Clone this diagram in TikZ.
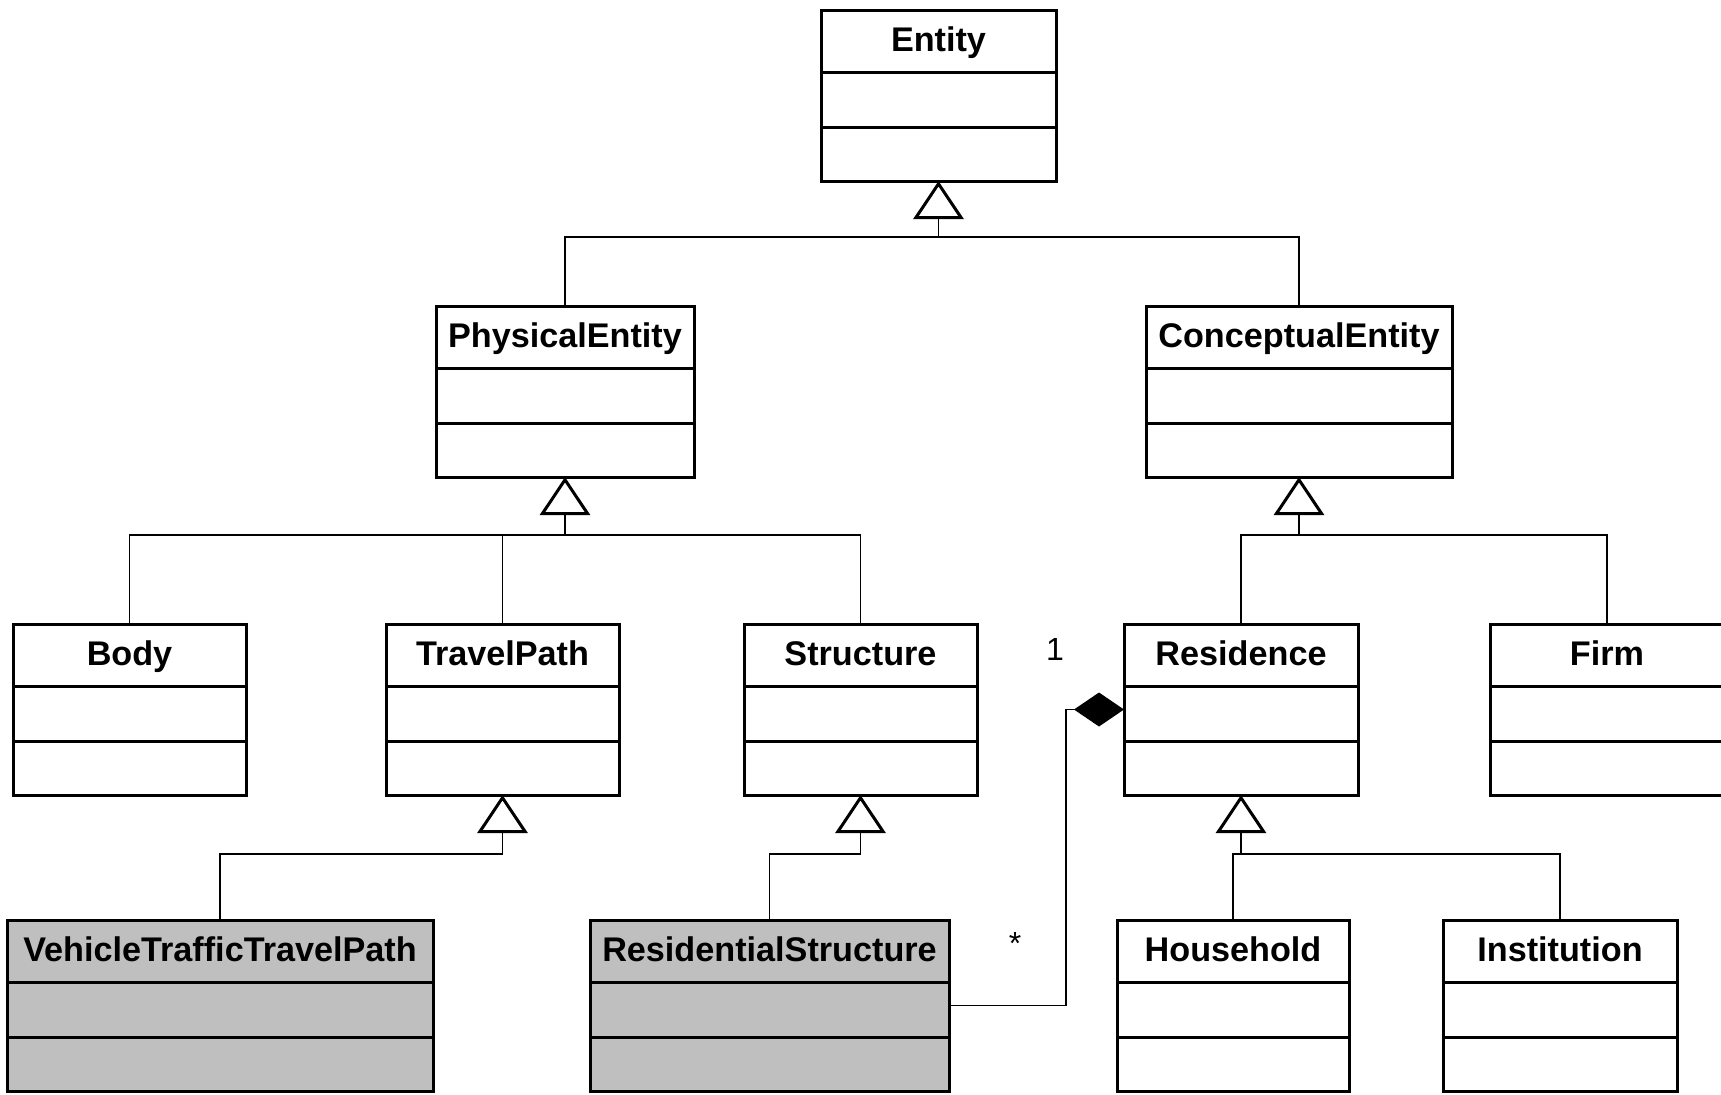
\documentclass[tikz,border=0pt]{standalone}
\usepackage{fontspec}
\setmainfont{Liberation Sans}
\usetikzlibrary{positioning}
\usetikzlibrary{arrows.meta}

\begin{document}
\begin{tikzpicture}
  [x=0.5pt,y=-0.5pt,
  cls/.style={rectangle,draw=black,fill=white,line width=1.5pt,inner sep=0pt,outer sep=0pt,anchor=north,minimum height=31pt,text height=12.2pt,text depth=2pt,font=\fontsize{17.1}{20}\selectfont\bfseries},
  attr/.style={rectangle,draw=black,fill=white,line width=1.5pt,inner sep=0pt,outer sep=0pt,minimum height=27.5pt},
  oper/.style={rectangle,draw=black,fill=white,line width=1.5pt,inner sep=0pt,outer sep=0pt,minimum height=27pt},
  gry/.style={fill=black!25},
  conn/.style={draw=black,line width=0.8pt},
  gen/.style={draw=black,line width=0.8pt,-{Triangle[length=19pt,width=25pt,fill=white,line width=1.5pt]}},
  comp/.style={draw=black,line width=0.8pt,-{Diamond[length=25pt,width=17pt]}},
  mult/.style={inner sep=0pt,font=\fontsize{16}{19}\selectfont}]
  \useasboundingbox (0,0) rectangle (1721,1094);

  % top
  \node[cls,minimum width=117.5pt] (entity) at (938.5,10) {Entity};
  \node[attr,minimum width=117.5pt,below=0pt of entity] (entity-a) {};
  \node[oper,minimum width=117.5pt,below=0pt of entity-a] (entity-o) {};

  % second row
  \node[cls,minimum width=129pt] (physent) at (565,306) {PhysicalEntity};
  \node[attr,minimum width=129pt,below=0pt of physent] (physent-a) {};
  \node[oper,minimum width=129pt,below=0pt of physent-a] (physent-o) {};

  \node[cls,minimum width=153pt] (concent) at (1299,306) {ConceptualEntity};
  \node[attr,minimum width=153pt,below=0pt of concent] (concent-a) {};
  \node[oper,minimum width=153pt,below=0pt of concent-a] (concent-o) {};

  % third row
  \node[cls,minimum width=116.5pt] (body) at (129.5,624) {Body};
  \node[attr,minimum width=116.5pt,below=0pt of body] (body-a) {};
  \node[oper,minimum width=116.5pt,below=0pt of body-a] (body-o) {};

  \node[cls,minimum width=116.5pt] (travel) at (502.5,624) {TravelPath};
  \node[attr,minimum width=116.5pt,below=0pt of travel] (travel-a) {};
  \node[oper,minimum width=116.5pt,below=0pt of travel-a] (travel-o) {};

  \node[cls,minimum width=116.5pt] (struct) at (860.5,624) {Structure};
  \node[attr,minimum width=116.5pt,below=0pt of struct] (struct-a) {};
  \node[oper,minimum width=116.5pt,below=0pt of struct-a] (struct-o) {};

  \node[cls,minimum width=117pt] (residence) at (1241,624) {Residence};
  \node[attr,minimum width=117pt,below=0pt of residence] (residence-a) {};
  \node[oper,minimum width=117pt,below=0pt of residence-a] (residence-o) {};

  \node[cls,minimum width=117pt] (firm) at (1607,624) {Firm};
  \node[attr,minimum width=117pt,below=0pt of firm] (firm-a) {};
  \node[oper,minimum width=117pt,below=0pt of firm-a] (firm-o) {};

  % bottom row
  \node[cls,gry,minimum width=213pt] (vttp) at (220,920) {VehicleTrafficTravelPath};
  \node[attr,gry,minimum width=213pt,below=0pt of vttp] (vttp-a) {};
  \node[oper,gry,minimum width=213pt,below=0pt of vttp-a] (vttp-o) {};

  \node[cls,gry,minimum width=179.5pt] (resstruct) at (769.5,920) {ResidentialStructure};
  \node[attr,gry,minimum width=179.5pt,below=0pt of resstruct] (resstruct-a) {};
  \node[oper,gry,minimum width=179.5pt,below=0pt of resstruct-a] (resstruct-o) {};

  \node[cls,minimum width=116pt] (household) at (1233,920) {Household};
  \node[attr,minimum width=116pt,below=0pt of household] (household-a) {};
  \node[oper,minimum width=116pt,below=0pt of household-a] (household-o) {};

  \node[cls,minimum width=117pt] (institution) at (1560,920) {Institution};
  \node[attr,minimum width=117pt,below=0pt of institution] (institution-a) {};
  \node[oper,minimum width=117pt,below=0pt of institution-a] (institution-o) {};

  % generalisations
  \path (entity-o.south) ++(0,56) coordinate (b1);
  \path (physent-o.south) ++(0,58) coordinate (b2);
  \path (concent-o.south) ++(0,58) coordinate (b3);
  \path (travel-o.south) ++(0,59) coordinate (b4);
  \path (struct-o.south) ++(0,59) coordinate (b5);
  \path (residence-o.south) ++(0,59) coordinate (b6);

  \draw[conn] (physent.north) |- (b1) -| (concent.north);
  \draw[gen] (b1) -- (entity-o.south);

  \draw[conn] (body.north) |- (b2) -| (struct.north);
  \draw[conn] (b2 -| travel.north) -- (travel.north);
  \draw[gen] (b2) -- (physent-o.south);

  \draw[conn] (residence.north) |- (b3) -| (firm.north);
  \draw[gen] (b3) -- (concent-o.south);

  \draw[conn] (vttp.north) |- (b4);
  \draw[gen] (b4) -- (travel-o.south);

  \draw[conn] (resstruct.north) |- (b5);
  \draw[gen] (b5) -- (struct-o.south);

  \draw[conn] (household.north) |- (b6) -| (institution.north);
  \draw[gen] (b6) -- (residence-o.south);

  % composition
  \draw[comp] ([yshift=2pt]resstruct-a.east) -| ([xshift=-29pt,yshift=2pt]residence-a.west) -- ([yshift=2pt]residence-a.west);
  \node[mult,anchor=base] (m1) at (1055,660) {1};
  \node[mult,anchor=base] (m2) at (1015,954) {*};
\end{tikzpicture}
\end{document}
